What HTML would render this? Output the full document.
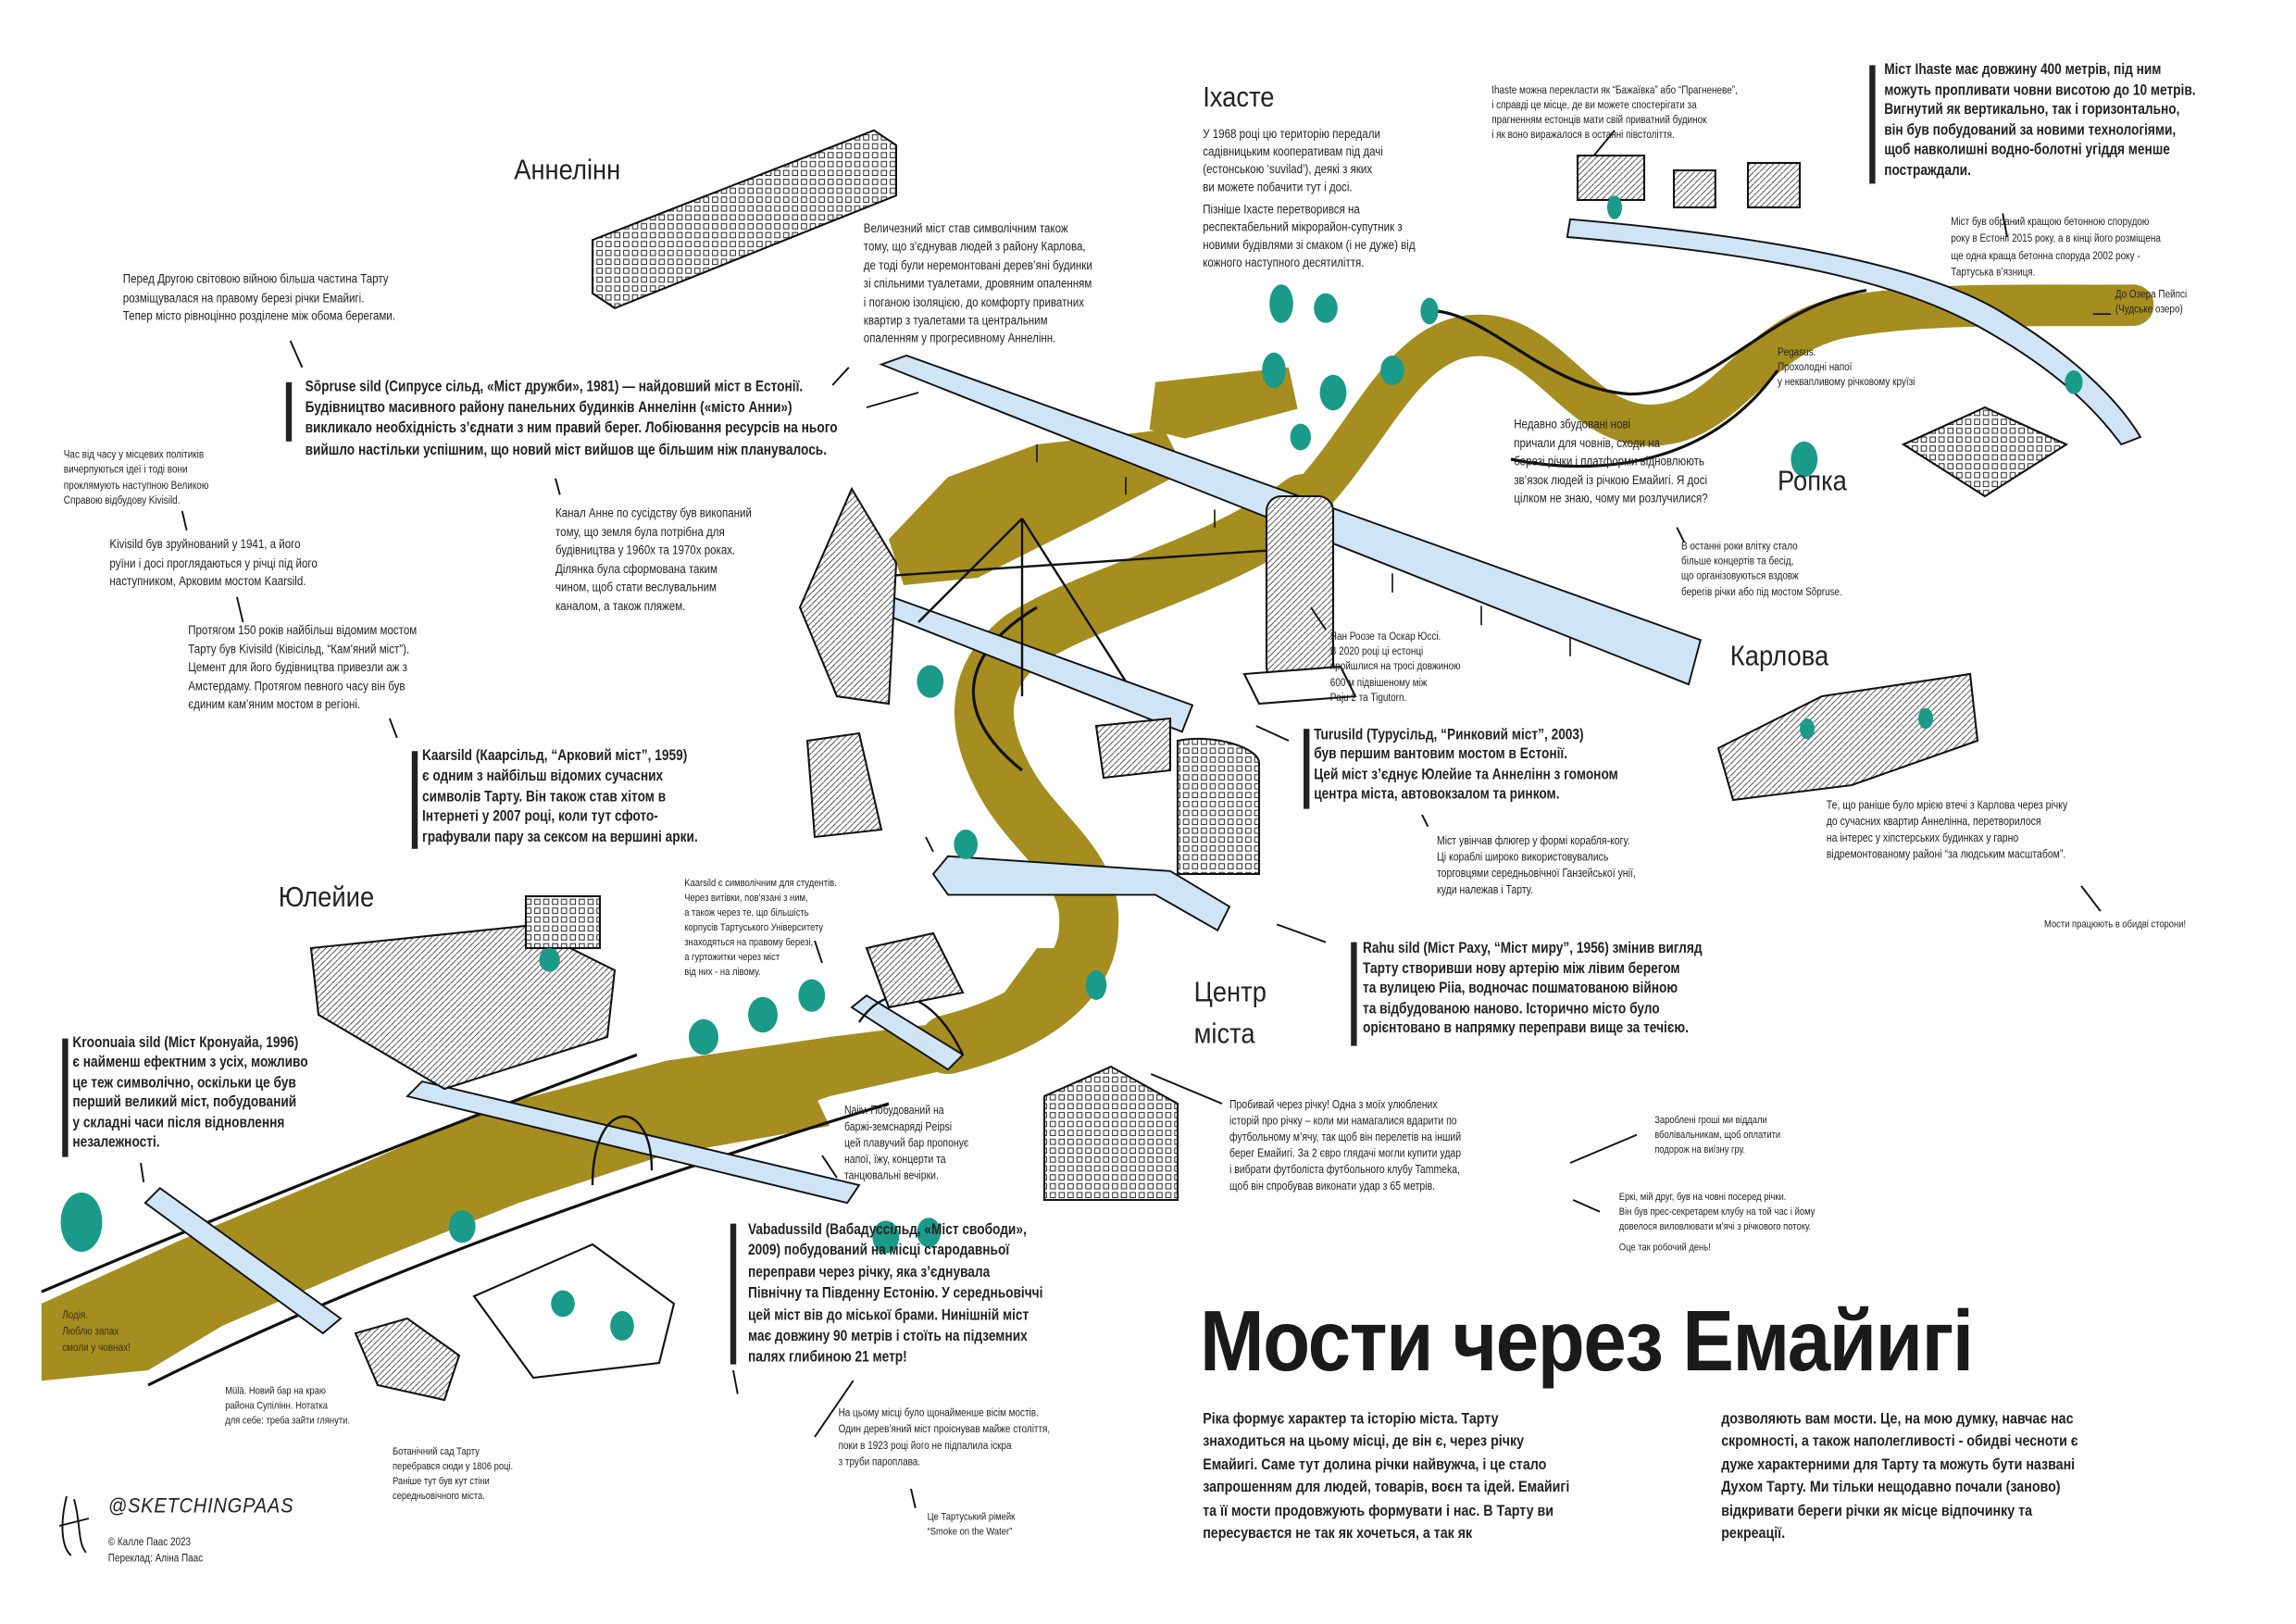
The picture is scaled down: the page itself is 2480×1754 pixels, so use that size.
<!DOCTYPE html>
<html><head><meta charset="utf-8">
<style>
html,body{margin:0;padding:0;background:#fff;}
body{width:2480px;height:1754px;overflow:hidden;position:relative;}
#w{position:absolute;left:0;top:0;width:1550px;height:1096px;transform:scale(1.6);transform-origin:0 0;}
svg{position:absolute;left:0;top:0;}
.t{position:absolute;white-space:nowrap;font-family:"Liberation Sans","Noto Sans CJK SC",sans-serif;color:#222;transform-origin:0 0;}
.s{font-size:8.6px;line-height:12.6px;transform:scaleX(.84);}
.xs{font-size:7.4px;line-height:10.4px;transform:scaleX(.84);}
.b{font-size:10.2px;line-height:14.2px;font-weight:bold;transform:scaleX(.84);}
.bar{position:absolute;background:#222;width:4px;}
.pl{font-size:19px;line-height:27px;transform:scaleX(.9);color:#222;}
</style></head><body><div id="w">
<svg width="1550" height="1096" viewBox="0 0 1550 1096">
<defs>
<pattern id="g" width="6" height="6" patternUnits="userSpaceOnUse"><rect width="6" height="6" fill="#fff"/><rect x="1" y="1" width="3.5" height="3.5" fill="none" stroke="#222" stroke-width=".6"/></pattern>
<pattern id="h" width="4" height="4" patternUnits="userSpaceOnUse"><rect width="4" height="4" fill="#fff"/><path d="M0,4 L4,0" stroke="#333" stroke-width=".5"/></pattern>
</defs>
<g fill="#a68d20" stroke="none">
<polygon points="28,880 120,838 230,792 330,748 450,716 560,700 640,690 700,665 735,640 700,640 640,722 560,740 460,776 350,812 250,852 150,895 100,925 28,932"/>
<path d="M 640,705 C 700,690 735,660 735,625 C 738,585 700,565 680,530 C 660,495 655,460 690,432 C 740,400 820,385 880,340" fill="none" stroke="#a68d20" stroke-width="40" stroke-linecap="round"/>
<path d="M 870,350 C 920,305 940,240 985,228 C 1040,215 1060,283 1110,287 C 1165,290 1180,230 1240,215 C 1300,203 1380,207 1440,206" fill="none" stroke="#a68d20" stroke-width="28" stroke-linecap="round"/>
<polygon points="600,364 640,322 700,300 786,290 800,318 740,350 660,390 610,395"/>
<polygon points="780,258 870,248 876,276 800,296 776,290"/>
<polygon points="450,742 545,728 560,760 470,776"/>
</g>
<g fill="none" stroke="#111" stroke-width="2">
<path d="M 28,872 C 150,820 300,760 430,712"/>
<path d="M 100,935 C 250,860 420,800 600,745"/>
<path d="M 960,210 C 1000,205 1040,262 1100,266 C 1160,266 1190,208 1260,196"/>
<path d="M 1020,310 C 1070,320 1150,320 1200,250"/>
<path d="M 690,520 C 640,480 650,440 700,410"/>
</g>
<g stroke="#111" stroke-width="1.2" fill="#cfe5f5">
<polygon points="595,246 612,240 1148,432 1140,462"/>
<path d="M 1060,148 C 1200,160 1300,180 1350,210 C 1400,240 1430,270 1445,295 L 1432,300 C 1410,270 1380,245 1335,220 C 1280,190 1200,172 1058,160 Z"/>
<polygon points="560,400 566,390 805,476 798,494"/>
<polygon points="630,590 640,578 790,588 830,612 822,628 780,604 640,604"/>
<polygon points="575,680 585,672 650,712 640,722"/>
<polygon points="275,740 285,730 580,800 572,812"/>
<polygon points="98,812 108,802 230,890 218,900"/>
</g>
<g stroke="#111" stroke-width="1">
<path d="M 700,300 L 700,312 M 760,322 L 760,334 M 820,344 L 820,356 M 940,387 L 940,400 M 1000,409 L 1000,422 M 1060,430 L 1060,443"/>
</g>
<g fill="none" stroke="#111" stroke-width="1.5">
<path d="M 400,800 C 400,740 440,740 440,790"/>
<path d="M 580,690 C 600,660 630,670 650,712"/>
<path d="M 690,350 L 690,470 M 690,350 L 620,420 M 690,350 L 760,460"/>
<path d="M 580,390 L 880,370"/>
</g>
<g stroke="#111" stroke-width="1.3">
<polygon points="400,162 590,88 605,98 605,132 415,208 400,198" fill="url(#g)"/>
<polygon points="540,410 575,330 605,380 600,475 565,470" fill="url(#h)"/>
<rect x="855" y="335" width="45" height="125" rx="10" fill="url(#h)"/>
<polygon points="840,455 905,450 915,470 850,475" fill="#fff"/>
<path d="M 795,500 C 820,495 850,505 850,515 L 850,590 L 795,590 Z" fill="url(#g)"/>
<polygon points="210,640 355,625 415,655 410,700 300,735 215,685" fill="url(#h)"/>
<rect x="355" y="605" width="50" height="35" fill="url(#g)"/>
<polygon points="705,740 750,720 795,745 795,810 705,810" fill="url(#g)"/>
<polygon points="1160,505 1230,470 1330,455 1335,500 1250,530 1170,540" fill="url(#h)"/>
<polygon points="1285,300 1340,275 1395,300 1340,335" fill="url(#g)"/>
<rect x="1065" y="105" width="45" height="30" fill="url(#h)"/>
<rect x="1130" y="115" width="28" height="25" fill="url(#h)"/>
<rect x="1180" y="110" width="35" height="30" fill="url(#h)"/>
<polygon points="585,640 630,630 650,670 600,680" fill="url(#h)"/>
<polygon points="545,500 580,495 595,560 550,565" fill="url(#h)"/>
<polygon points="740,490 790,485 790,520 745,525" fill="url(#h)"/>
<polygon points="240,900 275,890 310,915 300,945 255,935" fill="url(#h)"/>
<polygon points="320,875 400,840 455,880 445,920 360,930" fill="#fff"/>
</g>
<g fill="#1a9a89">
<ellipse cx="55" cy="825" rx="14" ry="20"/><ellipse cx="312" cy="828" rx="9" ry="11"/>
<ellipse cx="475" cy="700" rx="10" ry="12"/><ellipse cx="515" cy="685" rx="10" ry="12"/><ellipse cx="548" cy="672" rx="9" ry="11"/>
<ellipse cx="598" cy="835" rx="9" ry="11"/><ellipse cx="627" cy="832" rx="8" ry="10"/>
<ellipse cx="628" cy="460" rx="9" ry="11"/><ellipse cx="652" cy="570" rx="8" ry="10"/>
<ellipse cx="865" cy="205" rx="8" ry="13"/><ellipse cx="895" cy="208" rx="8" ry="10"/><ellipse cx="965" cy="210" rx="6" ry="9"/>
<ellipse cx="860" cy="250" rx="8" ry="12"/><ellipse cx="878" cy="295" rx="7" ry="9"/><ellipse cx="900" cy="265" rx="9" ry="12"/>
<ellipse cx="940" cy="250" rx="8" ry="10"/><ellipse cx="1090" cy="140" rx="5" ry="8"/>
<ellipse cx="1218" cy="310" rx="9" ry="12"/><ellipse cx="1400" cy="258" rx="6" ry="8"/>
<ellipse cx="371" cy="648" rx="7" ry="8"/><ellipse cx="740" cy="665" rx="7" ry="10"/>
<ellipse cx="1220" cy="492" rx="5" ry="7"/><ellipse cx="1300" cy="485" rx="5" ry="7"/>
<ellipse cx="380" cy="880" rx="8" ry="9"/><ellipse cx="420" cy="895" rx="8" ry="10"/>
</g>
<g stroke="#111" stroke-width="1.2">
<line x1="196" y1="230" x2="204" y2="248"/><line x1="573" y1="248" x2="562" y2="260"/><line x1="585" y1="275" x2="620" y2="265"/>
<line x1="123" y1="345" x2="126" y2="358"/><line x1="160" y1="403" x2="164" y2="420"/><line x1="263" y1="485" x2="268" y2="498"/>
<line x1="375" y1="323" x2="378" y2="334"/><line x1="625" y1="565" x2="630" y2="575"/>
<line x1="1090" y1="88" x2="1076" y2="105"/><line x1="1352" y1="144" x2="1355" y2="160"/>
<line x1="1132" y1="356" x2="1137" y2="366"/><line x1="885" y1="410" x2="895" y2="425"/>
<line x1="848" y1="490" x2="870" y2="500"/><line x1="960" y1="550" x2="964" y2="558"/>
<line x1="1405" y1="598" x2="1418" y2="615"/><line x1="862" y1="624" x2="895" y2="636"/>
<line x1="95" y1="785" x2="97" y2="798"/><line x1="555" y1="780" x2="565" y2="795"/>
<line x1="777" y1="725" x2="825" y2="745"/><line x1="1060" y1="785" x2="1105" y2="766"/><line x1="1062" y1="810" x2="1080" y2="818"/>
<line x1="495" y1="925" x2="498" y2="941"/><line x1="576" y1="932" x2="550" y2="970"/><line x1="615" y1="1005" x2="618" y2="1018"/>
<line x1="550" y1="635" x2="555" y2="650"/>
</g>
<path d="M 1413,212 L 1425,212" stroke="#111" stroke-width="1"/>
<path d="M 45,1010 C 40,1030 42,1045 48,1050 M 50,1012 C 55,1030 52,1040 58,1048 M 40,1030 L 60,1025" stroke="#111" stroke-width="1.2" fill="none"/>
</svg>

<div class="t pl" style="left:347px;top:102px;">Аннелінн</div>
<div class="t pl" style="left:812px;top:53px;">Іхасте</div>
<div class="t pl" style="left:1200px;top:312px;">Ропка</div>
<div class="t pl" style="left:1168px;top:430px;">Карлова</div>
<div class="t pl" style="left:188px;top:593px;">Юлейие</div>
<div class="t pl" style="left:806px;top:657px;line-height:28px;">Центр<br>міста</div>

<div class="t s" style="left:83px;top:182px;">Перед Другою світовою війною більша частина Тарту<br>розміщувалася на правому березі річки Емайигі.<br>Тепер місто рівноцінно розділене між обома берегами.</div>
<div class="bar" style="left:193px;top:258px;height:40px;"></div>
<div class="t b" style="left:206px;top:255px;">Sõpruse sild (Сипрусе сільд, «Міст дружби», 1981) — найдовший міст в Естонії.<br>Будівництво масивного району панельних будинків Аннелінн («місто Анни»)<br>викликало необхідність з’єднати з ним правий берег. Лобіювання ресурсів на нього<br>вийшло настільки успішним, що новий міст вийшов ще більшим ніж планувалось.</div>
<div class="t xs" style="left:43px;top:302px;">Час від часу у місцевих політиків<br>вичерпуються ідеї і тоді вони<br>проклямують наступною Великою<br>Справою відбудову Kivisild.</div>
<div class="t s" style="left:74px;top:361px;">Kivisild був зруйнований у 1941, а його<br>руїни і досі проглядаються у річці під його<br>наступником, Арковим мостом Kaarsild.</div>
<div class="t s" style="left:127px;top:419px;">Протягом 150 років найбільш відомим мостом<br>Тарту був Kivisild (Ківісільд, “Кам’яний міст”).<br>Цемент для його будівництва привезли аж з<br>Амстердаму. Протягом певного часу він був<br>єдиним кам’яним мостом в регіоні.</div>
<div class="bar" style="left:278px;top:507px;height:66px;"></div>
<div class="t b" style="left:285px;top:504px;line-height:13.8px;">Kaarsild (Каарсільд, “Арковий міст”, 1959)<br>є одним з найбільш відомих сучасних<br>символів Тарту. Він також став хітом в<br>Інтернеті у 2007 році, коли тут сфото-<br>графували пару за сексом на вершині арки.</div>
<div class="t s" style="left:375px;top:340px;">Канал Анне по сусідству був викопаний<br>тому, що земля була потрібна для<br>будівництва у 1960х та 1970х роках.<br>Ділянка була сформована таким<br>чином, щоб стати веслувальним<br>каналом, а також пляжем.</div>
<div class="t s" style="left:583px;top:148px;line-height:12.4px;">Величезний міст став символічним також<br>тому, що з’єднував людей з району Карлова,<br>де тоді були неремонтовані дерев’яні будинки<br>зі спільними туалетами, дровяним опаленням<br>і поганою ізоляцією, до комфорту приватних<br>квартир з туалетами та центральним<br>опаленням у прогресивному Аннелінн.</div>
<div class="t s" style="left:812px;top:84px;line-height:12px;">У 1968 році цю територію передали<br>садівницьким кооперативам під дачі<br>(естонською ‘suvilad’), деякі з яких<br>ви можете побачити тут і досі.</div>
<div class="t s" style="left:812px;top:135px;line-height:12px;">Пізніше Іхасте перетворився на<br>респектабельний мікрорайон-супутник з<br>новими будівлями зі смаком (і не дуже) від<br>кожного наступного десятиліття.</div>
<div class="t xs" style="left:1007px;top:56px;line-height:10px;">Ihaste можна перекласти як “Бажаївка” або “Прагненеве”,<br>і справді це місце, де ви можете спостерігати за<br>прагненням естонців мати свій приватний будинок<br>і як воно виражалося в останні півстоліття.</div>
<div class="bar" style="left:1262px;top:44px;height:80px;"></div>
<div class="t b" style="left:1272px;top:41px;line-height:13.6px;">Міст Ihaste має довжину 400 метрів, під ним<br>можуть пропливати човни висотою до 10 метрів.<br>Вигнутий як вертикально, так і горизонтально,<br>він був побудований за новими технологіями,<br>щоб навколишні водно-болотні угіддя менше<br>постраждали.</div>
<div class="t xs" style="left:1317px;top:144px;line-height:11.4px;">Міст був обраний кращою бетонною спорудою<br>року в Естонії 2015 року, а в кінці його розміщена<br>ще одна краща бетонна споруда 2002 року -<br>Тартуська в’язниця.</div>
<div class="t xs" style="left:1428px;top:194px;line-height:10px;">До Озера Пейпсі<br>(Чудське озеро)</div>
<div class="t xs" style="left:1200px;top:233px;line-height:10px;">Pegasus.<br>Прохолодні напої<br>у неквапливому річковому круїзі</div>
<div class="t s" style="left:1022px;top:280px;">Недавно збудовані нові<br>причали для човнів, сходи на<br>березі річки і платформи відновлюють<br>зв’язок людей із річкою Емайигі. Я досі<br>цілком не знаю, чому ми розлучилися?</div>
<div class="t xs" style="left:1135px;top:364px;line-height:10.2px;">В останні роки влітку стало<br>більше концертів та бесід,<br>що організовуються вздовж<br>берегів річки або під мостом Sõpruse.</div>
<div class="t xs" style="left:898px;top:425px;line-height:10.2px;">Яан Роозе та Оскар Юссі.<br>В 2020 році ці естонці<br>пройшлися на тросі довжиною<br>600 м підвішеному між<br>Paju 2 та Tigutorn.</div>
<div class="bar" style="left:880px;top:492px;height:54px;"></div>
<div class="t b" style="left:887px;top:490px;line-height:13.4px;">Turusild (Турусільд, “Ринковий міст”, 2003)<br>був першим вантовим мостом в Естонії.<br>Цей міст з’єднує Юлейие та Аннелінн з гомоном<br>центра міста, автовокзалом та ринком.</div>
<div class="t xs" style="left:970px;top:562px;line-height:11px;font-size:7.8px;">Міст увінчав флюгер у формі корабля-когу.<br>Ці кораблі широко використовувались<br>торговцями середньовічної Ганзейської унії,<br>куди належав і Тарту.</div>
<div class="t xs" style="left:1233px;top:538px;line-height:11px;font-size:7.8px;">Те, що раніше було мрією втечі з Карлова через річку<br>до сучасних квартир Аннелінна, перетворилося<br>на інтерес у хіпстерських будинках у гарно<br>відремонтованому районі “за людським масштабом”.</div>
<div class="t xs" style="left:1380px;top:620px;font-size:7px;">Мости працюють в обидві сторони!</div>
<div class="t xs" style="left:462px;top:592px;line-height:10px;font-size:7px;">Kaarsild є символічним для студентів.<br>Через витівки, пов’язані з ним,<br>а також через те, що більшість<br>корпусів Тартуського Університету<br>знаходяться на правому березі,<br>а гуртожитки через міст<br>від них - на лівому.</div>
<div class="bar" style="left:912px;top:636px;height:70px;"></div>
<div class="t b" style="left:920px;top:634px;line-height:13.6px;">Rahu sild (Міст Раху, “Міст миру”, 1956) змінив вигляд<br>Тарту створивши нову артерію між лівим берегом<br>та вулицею Piia, водночас пошматованою війною<br>та відбудованою наново. Історично місто було<br>орієнтовано в напрямку переправи вище за течією.</div>
<div class="bar" style="left:42px;top:701px;height:80px;"></div>
<div class="t b" style="left:49px;top:698px;line-height:13.4px;">Kroonuaia sild (Міст Кронуайа, 1996)<br>є найменш ефектним з усіх, можливо<br>це теж символічно, оскільки це був<br>перший великий міст, побудований<br>у складні часи після відновлення<br>незалежності.</div>
<div class="t xs" style="left:570px;top:744px;line-height:11px;font-size:7.8px;">Naiiv. Побудований на<br>баржі-земснаряді Peipsi<br>цей плавучий бар пропонує<br>напої, їжу, концерти та<br>танцювальні вечірки.</div>
<div class="t xs" style="left:830px;top:740px;line-height:11px;font-size:7.8px;">Пробивай через річку! Одна з моїх улюблених<br>історій про річку – коли ми намагалися вдарити по<br>футбольному м’ячу, так щоб він перелетів на інший<br>берег Емайигі. За 2 євро глядачі могли купити удар<br>і вибрати футболіста футбольного клубу  Tammeka,<br>щоб він спробував виконати удар з 65 метрів.</div>
<div class="t xs" style="left:1117px;top:752px;line-height:10px;font-size:7px;">Зароблені гроші ми віддали<br>вболівальникам, щоб оплатити<br>подорож на виїзну гру.</div>
<div class="t xs" style="left:1093px;top:804px;line-height:10px;font-size:7px;">Еркі, мій друг, був на човні посеред річки.<br>Він був прес-секретарем клубу на той час і йому<br>довелося виловлювати м’ячі з річкового потоку.</div>
<div class="t xs" style="left:1093px;top:838px;font-size:7px;">Оце так робочий день!</div>
<div class="bar" style="left:493px;top:826px;height:95px;"></div>
<div class="t b" style="left:505px;top:824px;line-height:14.4px;">Vabadussild (Вабадуссільд, «Міст свободи»,<br>2009) побудований на місці стародавньої<br>переправи через річку, яка з’єднувала<br>Північну та Південну Естонію. У середньовіччі<br>цей міст вів до міської брами. Нинішній міст<br>має довжину 90 метрів і стоїть на підземних<br>палях глибиною 21 метр!</div>
<div class="t xs" style="left:42px;top:882px;line-height:11.2px;color:#3a3310;">Лодія.<br>Люблю запах<br>смоли у човнах!</div>
<div class="t xs" style="left:152px;top:935px;line-height:10px;font-size:7px;">Mülä. Новий бар на краю<br>района Супілінн. Нотатка<br>для себе: треба зайти глянути.</div>
<div class="t xs" style="left:265px;top:976px;line-height:10px;font-size:7px;">Ботанічний сад Тарту<br>перебрався сюди у 1806 році.<br>Раніше тут був кут стіни<br>середньовічного міста.</div>
<div class="t xs" style="left:566px;top:948px;line-height:11px;">На цьому місці було щонайменше вісім мостів.<br>Один дерев’яний міст проіснував майже століття,<br>поки в 1923 році його не підпалила іскра<br>з труби пароплава.</div>
<div class="t xs" style="left:626px;top:1020px;line-height:10px;font-size:7px;">Це Тартуський рімейк<br>“Smoke on the Water”</div>
<div class="t" style="left:73px;top:1008px;font-size:14px;font-style:italic;letter-spacing:.5px;transform:scaleX(.9);">@SKETCHINGPAAS</div>
<div class="t xs" style="left:73px;top:1035px;line-height:11px;">© Калле Паас 2023<br>Переклад: Аліна Паас</div>

<div class="t" style="left:810px;top:870px;font-size:58px;line-height:72px;font-weight:bold;color:#1a1a1a;transform:scaleX(.9);letter-spacing:-1px;">Мости через Емайигі</div>
<div class="t" style="left:812px;top:951px;font-size:10.6px;line-height:15.4px;font-weight:bold;color:#222;transform:scaleX(.84);">Ріка формує характер та історію міста. Тарту<br>знаходиться на цьому місці, де він є, через річку<br>Емайигі. Саме тут долина річки найвужча, і це стало<br>запрошенням для людей, товарів, воєн та ідей. Емайигі<br>та її мости продовжують формувати і нас. В Тарту ви<br>пересуваєтся не так як хочеться, а так як</div>
<div class="t" style="left:1162px;top:951px;font-size:10.6px;line-height:15.4px;font-weight:bold;color:#222;transform:scaleX(.84);">дозволяють вам мости. Це, на мою думку, навчає нас<br>скромності, а також наполегливості - обидві чесноти є<br>дуже характерними для Тарту та можуть бути названі<br>Духом Тарту. Ми тільки нещодавно почали (заново)<br>відкривати береги річки як місце відпочинку та<br>рекреації.</div>
</div></body></html>
